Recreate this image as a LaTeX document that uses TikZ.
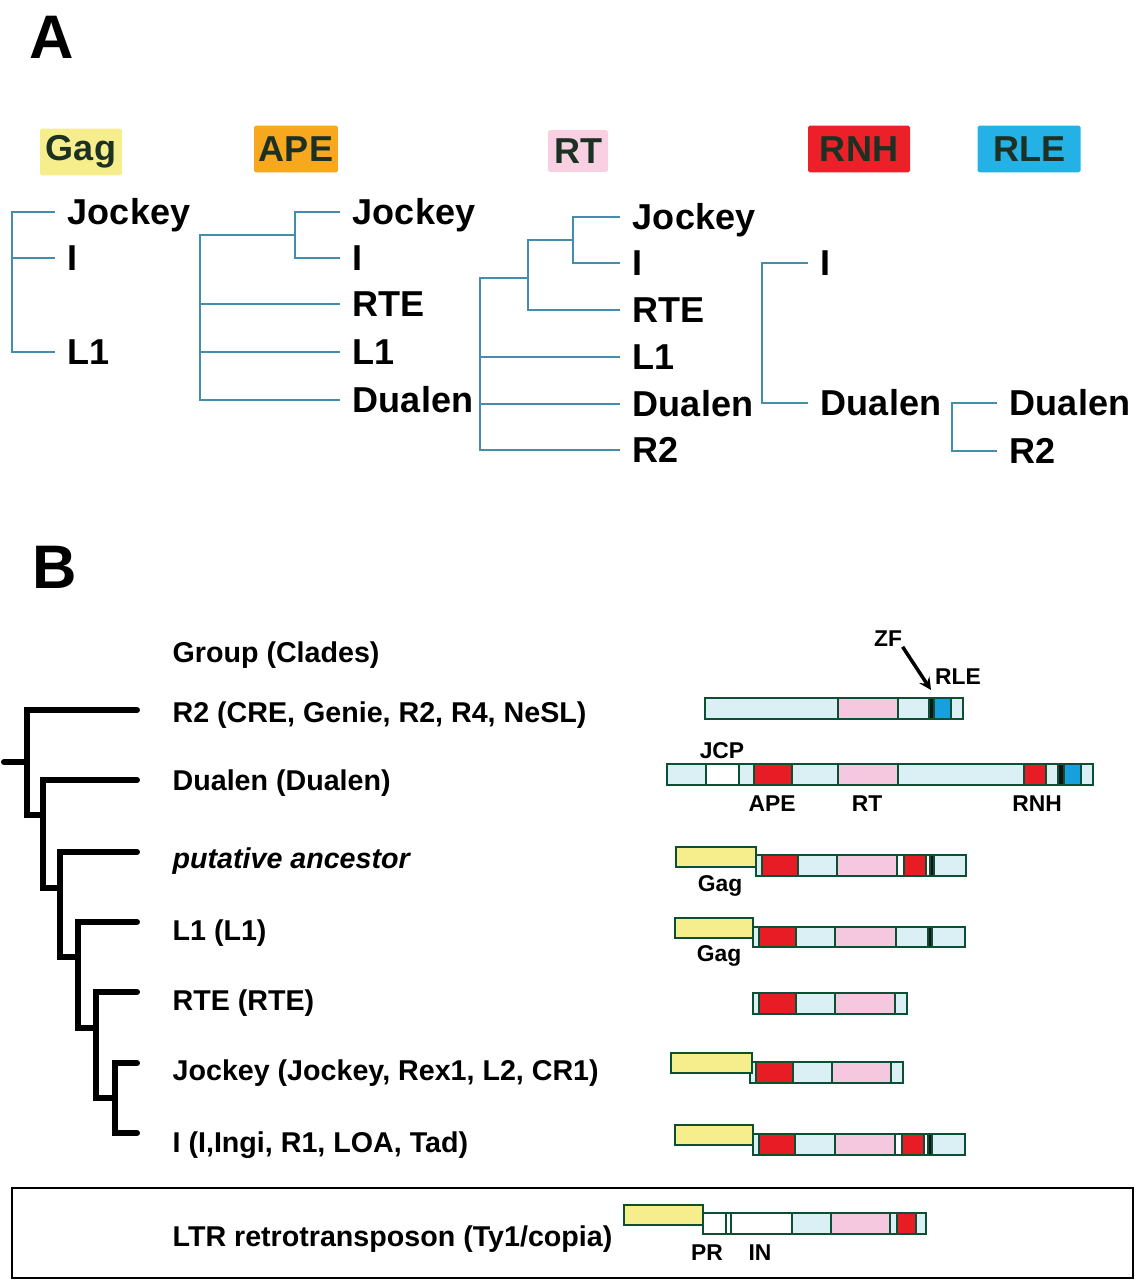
\documentclass[tikz,border=0pt]{standalone}
\usepackage{fontspec}
\setmainfont{Liberation Sans}
\usetikzlibrary{positioning}
\tikzset{every picture/.style={line width=0.75pt}}

\definecolor{brline}{RGB}{70,140,175}
\definecolor{domline}{RGB}{12,80,52}
\definecolor{lc}{RGB}{218,240,244}
\definecolor{pk}{RGB}{246,200,224}
\definecolor{rd}{RGB}{232,28,36}
\definecolor{bl}{RGB}{24,160,222}
\definecolor{yl}{RGB}{246,238,140}
\definecolor{wt}{RGB}{255,255,255}
\definecolor{bk}{RGB}{20,20,20}
\definecolor{gaghdr}{RGB}{246,238,140}
\definecolor{apehdr}{RGB}{248,168,30}
\definecolor{rthdr}{RGB}{248,208,226}
\definecolor{rnhhdr}{RGB}{236,32,40}
\definecolor{rlehdr}{RGB}{36,178,230}
\definecolor{hdrtext}{RGB}{28,48,36}

\newcommand\treefont{\bfseries\fontsize{20.5}{24}\selectfont}
\newcommand\cladefont{\bfseries\fontsize{16.3}{19}\selectfont}
\newcommand\domfont{\bfseries\fontsize{13}{15}\selectfont}
\newcommand\panelfont{\bfseries\fontsize{35}{40}\selectfont}
% one ORF, as a row of domain segments
\newcommand\domrow[3]{\foreach \xa/\xb/\col in {#3}{\filldraw[dom, fill=\col] (\xa,#1) rectangle (\xb,#2);}}

\begin{document}
\begin{tikzpicture}[x=0.02cm, y=-0.02cm, >=stealth,
    leaf/.style={anchor=west, inner xsep=7pt, inner ysep=0pt, text height=14.7pt, text depth=0pt, font=\treefont},
    hdr/.style={font=\treefont, text=hdrtext, minimum height=0.94cm, inner sep=0pt, rounded corners=1pt},
    br/.style={draw=brline, line width=0.9pt},
    clade/.style={anchor=west, inner sep=0pt, text height=11.7pt, text depth=0pt, font=\cladefont},
    thk/.style={line width=3.4pt, line cap=round},
    dom/.style={draw=domline, line width=1.6pt},
    dlab/.style={font=\domfont, inner sep=0pt, text height=9.3pt, text depth=0pt}]
    \useasboundingbox (0,0) rectangle (1137,1280);

    % ---- A: domain trees
    \node[font=\panelfont] (pa) at (52,37) {A};
    \node[hdr, fill=gaghdr, minimum width=1.64cm] (hgag) at (81,152) {Gag};
    \node[hdr, fill=apehdr, minimum width=1.68cm] (hape) at (296,149) {APE};
    \node[hdr, fill=rthdr, minimum width=1.2cm, minimum height=0.84cm] (hrt) at (578,151) {RT};
    \node[hdr, fill=rnhhdr, minimum width=2.04cm] (hrnh) at (859,149) {RNH};
    \node[hdr, fill=rlehdr, minimum width=2.06cm] (hrle) at (1029,149) {RLE};

    % Gag
    \node[leaf] (g1) at (55,212) {Jockey};
    \node[leaf] (g2) at (55,258) {I};
    \node[leaf] (g3) at (55,352) {L1};
    \coordinate (gr) at (12,258);
    \draw[br] (g1.west) -| (gr) |- (g3.west);
    \draw[br] (gr) -- (g2.west);

    % APE
    \node[leaf] (a1) at (340,212) {Jockey};
    \node[leaf] (a2) at (340,258) {I};
    \node[leaf] (a3) at (340,304) {RTE};
    \node[leaf] (a4) at (340,352) {L1};
    \node[leaf] (a5) at (340,400) {Dualen};
    \coordinate (ai) at (295,235);
    \coordinate (ao) at (200,235);
    \draw[br] (a1.west) -| (ai) |- (a2.west);
    \draw[br] (ai) -- (ao) |- (a5.west);
    \draw[br] (ao |- a3.west) -- (a3.west);
    \draw[br] (ao |- a4.west) -- (a4.west);

    % RT
    \node[leaf] (r1) at (620,217) {Jockey};
    \node[leaf] (r2) at (620,263) {I};
    \node[leaf] (r3) at (620,310) {RTE};
    \node[leaf] (r4) at (620,357) {L1};
    \node[leaf] (r5) at (620,404) {Dualen};
    \node[leaf] (r6) at (620,450) {R2};
    \coordinate (ri) at (573,240);
    \coordinate (rm) at (528,278);
    \coordinate (ro) at (480,278);
    \draw[br] (r1.west) -| (ri) |- (r2.west);
    \draw[br] (ri) -| (rm) |- (r3.west);
    \draw[br] (rm) -- (ro) |- (r6.west);
    \draw[br] (ro |- r4.west) -- (r4.west);
    \draw[br] (ro |- r5.west) -- (r5.west);

    % RNH
    \node[leaf] (n1) at (808,263) {I};
    \node[leaf] (n2) at (808,403) {Dualen};
    \coordinate (nr) at (762,333);
    \draw[br] (n1.west) -| (nr) |- (n2.west);

    % RLE
    \node[leaf] (e1) at (997,403) {Dualen};
    \node[leaf] (e2) at (997,451) {R2};
    \coordinate (er) at (952,427);
    \draw[br] (e1.west) -| (er) |- (e2.west);

    % ---- B: clades and ORF structures
    \node[font=\panelfont] (pb) at (55,567) {B};
    \node[clade] (grp) at (172,652) {Group (Clades)};
    \node[clade] (c1) at (172,712) {R2 (CRE, Genie, R2, R4, NeSL)};
    \node[clade] (c2) at (172,780) {Dualen (Dualen)};
    \node[clade] (c3) at (172,858) {\itshape putative ancestor};
    \node[clade] (c4) at (172,930) {L1 (L1)};
    \node[clade] (c5) at (172,1000) {RTE (RTE)};
    \node[clade] (c6) at (172,1070) {Jockey (Jockey, Rex1, L2, CR1)};
    \node[clade] (c7) at (172,1142) {I (I,Ingi, R1, LOA, Tad)};
    \node[clade] (ltr) at (172,1236) {LTR retrotransposon (Ty1/copia)};

    % cladogram
    \coordinate (k1) at (137,710);
    \coordinate (k2) at (137,780);
    \coordinate (k3) at (137,852);
    \coordinate (k4) at (137,922);
    \coordinate (k5) at (137,992);
    \coordinate (k6) at (137,1063);
    \coordinate (k7) at (137,1133);
    \coordinate (s1) at (27,815);
    \coordinate (s2) at (43,888);
    \coordinate (s3) at (60,957);
    \coordinate (s4) at (78,1028);
    \coordinate (s5) at (96,1098);
    \coordinate (s6) at (115,1098);
    \coordinate (rt) at (4,762);
    \draw[thk] (rt) -- (rt -| s1);
    \draw[thk] (k1) -| (s1) -- (s1 -| s2);
    \draw[thk] (k2) -| (s2) -- (s2 -| s3);
    \draw[thk] (k3) -| (s3) -- (s3 -| s4);
    \draw[thk] (k4) -| (s4) -- (s4 -| s5);
    \draw[thk] (k5) -| (s5) -- (s5 -| s6);
    \draw[thk] (k6) -| (s6) |- (k7);

    % ORFs
    \domrow{698}{719}{705/838/lc, 838/898/pk, 898/929/lc, 929/934/bk, 934/951/bl, 951/963/lc}
    \domrow{764}{785}{667/706/lc, 706/739/wt, 739/754/lc, 754/792/rd, 792/838/lc, 838/898/pk, 898/1024/lc, 1024/1046/rd, 1046/1058/lc, 1058/1064/bk, 1064/1081/bl, 1081/1093/lc}
    \domrow{855}{876}{756/762/lc, 762/798/rd, 798/837/lc, 837/897/pk, 897/904/wt, 904/926/rd, 926/930/wt, 930/934/bk, 934/966/lc}
    \filldraw[dom, fill=yl] (676,847) rectangle (756,867);
    \domrow{927}{947}{753/759/lc, 759/796/rd, 796/835/lc, 835/896/pk, 896/928/lc, 928/932/bk, 932/965/lc}
    \filldraw[dom, fill=yl] (675,918) rectangle (753,938);
    \domrow{993}{1014}{753/759/lc, 759/796/rd, 796/835/lc, 835/895/pk, 895/907/lc}
    \domrow{1062}{1083}{750/756/lc, 756/793/rd, 793/832/lc, 832/891/pk, 891/903/lc}
    \filldraw[dom, fill=yl] (671,1053) rectangle (752,1073);
    \domrow{1134}{1155}{753/759/lc, 759/795/rd, 795/835/lc, 835/895/pk, 895/902/wt, 902/924/rd, 924/928/wt, 928/932/bk, 932/965/lc}
    \filldraw[dom, fill=yl] (675,1125) rectangle (753,1145);
    \domrow{1213}{1234}{703/726/wt, 726/731/wt, 731/792/wt, 792/831/lc, 831/890/pk, 890/897/lc, 897/916/rd, 916/926/lc}
    \filldraw[dom, fill=yl] (624,1205) rectangle (703,1225);

    % domain labels
    \node[dlab] (zf) at (888,638) {ZF};
    \node[dlab] (rle) at (958,676) {RLE};
    \coordinate (zfend) at (931,690);
    \draw[->, line width=2pt] (zf.south east) -- (zfend);
    \node[dlab] (jcp) at (722,750) {JCP};
    \node[dlab] (ape) at (772,803) {APE};
    \node[dlab] (rtl) at (867,803) {RT};
    \node[dlab] (rnh) at (1037,803) {RNH};
    \node[dlab] (gag1) at (720,883) {Gag};
    \node[dlab] (gag2) at (719,953) {Gag};
    \node[dlab] (pr) at (707,1252) {PR};
    \node[dlab] (inl) at (760,1252) {IN};

    % LTR outgroup frame
    \draw[line width=1pt] (12,1188) rectangle (1133,1278);
\end{tikzpicture}
\end{document}
